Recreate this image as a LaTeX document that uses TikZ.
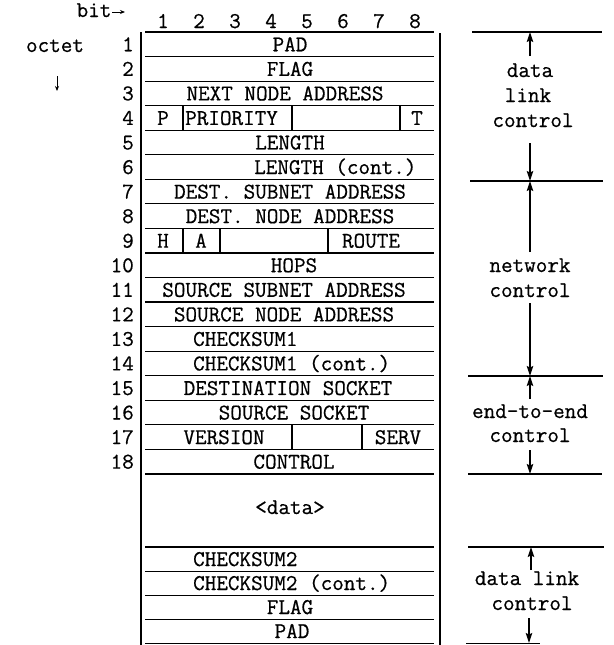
\documentclass[tikz,border=0pt]{standalone}
\usepackage{fontspec}
\newfontfamily\typew{Latin Modern Mono}[FakeBold=0.6]
\usetikzlibrary{arrows.meta}
\begin{document}
\begin{tikzpicture}[x=1pt,y=-1pt,
  declare function={ry(\k)=32+\k*24.55;},
  lbl/.style={font=\typew\fontsize{22.5}{24}\selectfont,inner sep=0pt,anchor=base},
  lblw/.style={lbl,anchor=base west},
  num/.style={lbl,anchor=base east},
  rule/.style={line width=1.2pt},
  pointer/.style={line width=1.1pt,-{Stealth[length=10pt,width=6.5pt,inset=1.5pt]}},
  small pointer/.style={line width=1pt,-{Stealth[length=5pt,width=4pt]}},
]
\useasboundingbox (0,0) rectangle (613,645);

% outer vertical lines
\draw[rule] (141,32) -- (141,645);
\draw[rule] (440,33) -- (440,645);

% row lines
\foreach \k in {0,...,18} \draw[rule] (145,{ry(\k)}) -- (434,{ry(\k)});
\foreach \yy in {547,571.2,595.4,619.6,643.8} \draw[rule] (145,\yy) -- (434,\yy);

% cell dividers
\foreach \xx in {183,292,400} \draw[rule] (\xx,{ry(3)}) -- (\xx,{ry(4)});
\foreach \xx in {183,220,328} \draw[rule] (\xx,{ry(8)}) -- (\xx,{ry(9)});
\foreach \xx in {292,362} \draw[rule] (\xx,{ry(16)}) -- (\xx,{ry(17)});

% header
\node[lbl] (bit) at (94,17) {bit};
\coordinate (bitA) at (112,12);
\coordinate (bitB) at (125,12);
\draw[small pointer] (bitA) -- (bitB);
\foreach \i in {1,...,8} \node[lbl] (b\i) at ({163+36*(\i-1)},28) {\i};
\node[lbl] (octet) at (55,52) {octet};
\coordinate (octA) at (57,76);
\coordinate (octB) at (57,91);
\draw[small pointer] (octA) -- (octB);

% octet numbers
\foreach \k in {1,...,18} \node[num] (o\k) at (134,{ry(\k-0.5)+7}) {\k};

% row texts
\foreach \k/\xx/\txt in {1/290/PAD, 2/290/FLAG, 3/285/NEXT NODE ADDRESS, 5/290/LENGTH,
  7/290/DEST. SUBNET ADDRESS, 8/290/DEST. NODE ADDRESS, 10/294/HOPS,
  11/284/SOURCE SUBNET ADDRESS, 12/284/SOURCE NODE ADDRESS,
  15/288/DESTINATION SOCKET, 16/294/SOURCE SOCKET, 18/294/CONTROL}
  \node[lbl] (t\k) at (\xx,{ry(\k-0.5)+7}) {\txt};
\node[lblw] (t6) at (254,{ry(5.5)+7}) {LENGTH (cont.)};
\node[lblw] (t13) at (193,{ry(12.5)+7}) {CHECKSUM1};
\node[lblw] (t14) at (193,{ry(13.5)+7}) {CHECKSUM1 (cont.)};
% split rows
\node[lbl] (t4p) at (163,{ry(3.5)+7}) {P};
\node[lblw] (t4pr) at (185,{ry(3.5)+7}) {PRIORITY};
\node[lbl] (t4t) at (417,{ry(3.5)+7}) {T};
\node[lbl] (t9h) at (163,{ry(8.5)+7}) {H};
\node[lbl] (t9a) at (201,{ry(8.5)+7}) {A};
\node[lbl] (t9r) at (371,{ry(8.5)+7}) {ROUTE};
\node[lbl] (t17v) at (224,{ry(16.5)+7}) {VERSION};
\node[lbl] (t17s) at (398,{ry(16.5)+7}) {SERV};

% data and trailer
\node[lbl] (data) at (290,514) {<data>};
\node[lblw] (c2) at (193,566) {CHECKSUM2};
\node[lblw] (c2c) at (193,590) {CHECKSUM2 (cont.)};
\node[lbl] (flag2) at (290,614) {FLAG};
\node[lbl] (pad2) at (292,638) {PAD};

% right-hand annotations
\draw[rule] (472,32) -- (602,32);
\draw[rule] (470,181) -- (603,181);
\draw[rule] (468,376) -- (603,376);
\draw[rule] (468,474) -- (602,474);
\draw[rule] (468,547) -- (604,547);
\draw[rule] (466,643.5) -- (540,643.5);

\node[lbl] (dl1) at (530,77) {data};
\node[lbl] (dl2) at (528,102) {link};
\node[lbl] (dl3) at (533,127) {control};
\node[lbl] (nc1) at (530,272) {network};
\node[lbl] (nc2) at (530,297) {control};
\node[lbl] (ee1) at (530,418) {end-to-end};
\node[lbl] (ee2) at (530,442) {control};
\node[lbl] (dl4) at (527,585) {data link};
\node[lbl] (dl5) at (532,610) {control};

\coordinate (a1s) at (530,56);  \coordinate (a1e) at (530,32);
\coordinate (a2s) at (530,143); \coordinate (a2e) at (530,181);
\coordinate (a3s) at (530,252); \coordinate (a3e) at (530,181);
\coordinate (a4s) at (530,303); \coordinate (a4e) at (530,376);
\coordinate (a5s) at (530,399); \coordinate (a5e) at (530,376);
\coordinate (a6s) at (530,450); \coordinate (a6e) at (530,474);
\coordinate (a7s) at (531,570); \coordinate (a7e) at (531,547);
\coordinate (a8s) at (529,618); \coordinate (a8e) at (529,643);
\foreach \n in {1,...,8} \draw[pointer] (a\n s) -- (a\n e);
\end{tikzpicture}
\end{document}
